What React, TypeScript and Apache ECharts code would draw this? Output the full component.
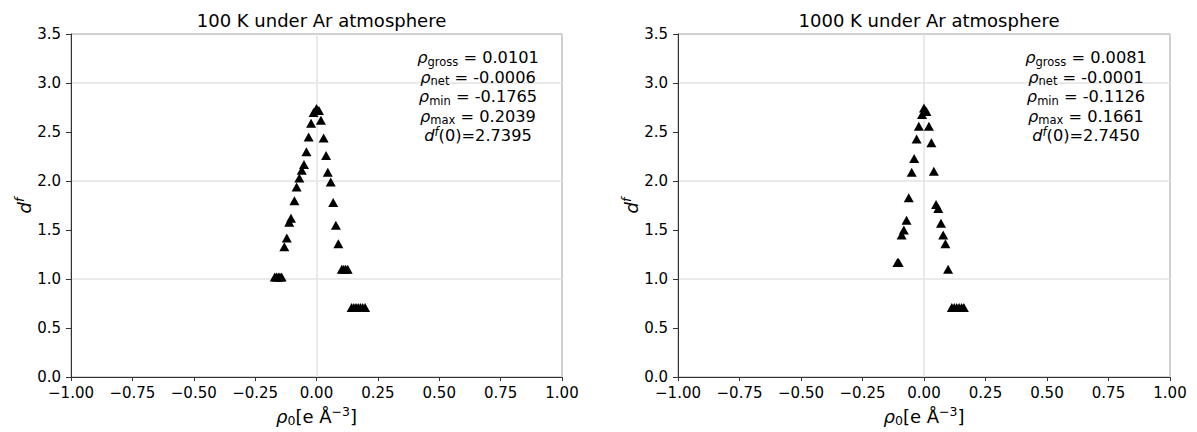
import React, { useEffect, useRef } from "react";
import * as echarts from "echarts";

// 100 K under Ar atmosphere
const x100 = [-0.012, 0.0, 0.01, -0.022, 0.018, -0.032, 0.029, -0.041, 0.039, -0.051, -0.06, 0.046, -0.07, 0.058, -0.081, -0.09, 0.068, -0.104, -0.111, 0.079, -0.121, -0.131, 0.089, -0.17, -0.163, -0.156, -0.149, -0.142, 0.103, 0.111, 0.119, 0.127, 0.143, 0.152, 0.161, 0.17, 0.179, 0.188, 0.198];
const y100 = [2.7, 2.7395, 2.72, 2.59, 2.62, 2.45, 2.44, 2.3, 2.26, 2.17, 2.11, 2.09, 2.03, 1.99, 1.94, 1.8, 1.78, 1.62, 1.58, 1.55, 1.42, 1.33, 1.36, 1.02, 1.02, 1.02, 1.02, 1.02, 1.1, 1.1, 1.1, 1.1, 0.71, 0.71, 0.71, 0.71, 0.71, 0.71, 0.71];

// 1000 K under Ar atmosphere
const x1000 = [-0.008, 0.0, 0.01, -0.021, 0.02, -0.03, 0.03, -0.04, -0.05, 0.04, -0.062, 0.049, 0.058, -0.071, -0.082, -0.091, 0.069, 0.078, 0.087, -0.108, -0.103, 0.098, 0.113, 0.123, 0.133, 0.143, 0.153, 0.162];
const y1000 = [2.68, 2.745, 2.71, 2.56, 2.56, 2.43, 2.39, 2.23, 2.09, 2.1, 1.83, 1.76, 1.72, 1.6, 1.5, 1.45, 1.57, 1.45, 1.36, 1.17, 1.17, 1.1, 0.71, 0.71, 0.71, 0.71, 0.71, 0.71];

const titles = ["100 K under Ar atmosphere", "1000 K under Ar atmosphere"];
const statsA = ["0.0101", "-0.0006", "-0.1765", "0.2039", "2.7395"];
const statsB = ["0.0081", "-0.0001", "-0.1126", "0.1661", "2.7450"];

const xTicksMin = -1;
const xTicksMax = 1;
const xTickStep = 0.25;
const yTicksMin = 0;
const yTicksMax = 3.5;
const yTickStep = 0.5;

const FONT = "'DejaVu Sans', sans-serif";

export default function App() {
  const ref = useRef<HTMLDivElement>(null);
  useEffect(() => {
    document.body.style.margin = "0";
    const chart = echarts.init(ref.current!, null, { renderer: "svg" });
    const grids = [
      { left: 71, top: 34, width: 491, height: 344 },
      { left: 678, top: 34, width: 492, height: 344 },
    ];
    const fmtX = (v: number) => v.toFixed(2).replace("-", "\u2212");
    const fmtY = (v: number) => v.toFixed(1);
    const richName = {
      r: { fontFamily: FONT, fontStyle: "italic", fontSize: 18, color: "#000", lineHeight: 22 },
      n: { fontFamily: FONT, fontSize: 18, color: "#000", lineHeight: 22 },
      sub: { fontFamily: FONT, fontSize: 12.5, color: "#000", lineHeight: 10, verticalAlign: "bottom" },
      sup: { fontFamily: FONT, fontSize: 12.5, color: "#000", lineHeight: 14, verticalAlign: "top" },
      supi: { fontFamily: FONT, fontStyle: "italic", fontSize: 12.5, color: "#000", lineHeight: 14, verticalAlign: "top" },
    };
    const xAxes: any[] = [];
    const yAxes: any[] = [];
    grids.forEach((_, i) => {
      xAxes.push({
        gridIndex: i,
        type: "value",
        min: xTicksMin,
        max: xTicksMax,
        interval: xTickStep,
        axisLine: { show: true, onZero: false, lineStyle: { color: "#333", width: 1 } },
        axisTick: { show: true, inside: false, length: 4, lineStyle: { color: "#333" } },
        axisLabel: { formatter: fmtX, fontFamily: FONT, fontSize: 15, color: "#000", margin: 8 },
        splitLine: { show: false },
        name: "{r|ρ}{sub|0}{n|[e Å}{sup|−3}{n|]}",
        nameLocation: "middle",
        nameGap: 27,
        nameTextStyle: { rich: richName },
      });
      xAxes.push({
        gridIndex: i,
        type: "value",
        position: "top",
        min: -1,
        max: 1,
        interval: 1,
        axisLine: { show: false },
        axisTick: { show: false },
        axisLabel: { show: false },
        splitLine: { show: true, lineStyle: { color: "#e3e3e3", width: 1.5 } },
      });
      yAxes.push({
        gridIndex: i,
        type: "value",
        min: yTicksMin,
        max: yTicksMax,
        interval: yTickStep,
        axisLine: { show: true, onZero: false, lineStyle: { color: "#333", width: 1 } },
        axisTick: { show: true, inside: false, length: 5, lineStyle: { color: "#333" } },
        axisLabel: { formatter: fmtY, fontFamily: FONT, fontSize: 15, color: "#000", margin: 10 },
        splitLine: { show: false },
        name: "{r|d}{supi|f}",
        nameLocation: "middle",
        nameRotate: 90,
        nameGap: 26,
        nameTextStyle: { rich: richName },
      });
      yAxes.push({
        gridIndex: i,
        type: "value",
        position: "right",
        min: 0,
        max: 3.5,
        interval: 1,
        axisLine: { show: false },
        axisTick: { show: false },
        axisLabel: { show: false },
        splitLine: { show: true, lineStyle: { color: "#e3e3e3", width: 1.5 } },
      });
    });

    const statsText = (s: string[]) =>
      [
        `{r|ρ}{sub|gross}{n| = ${s[0]}}`,
        `{r|ρ}{sub|net}{n| = ${s[1]}}`,
        `{r|ρ}{sub|min}{n| = ${s[2]}}`,
        `{r|ρ}{sub|max}{n| = ${s[3]}}`,
        `{r|d}{supi|f}{n|(0)=${s[4]}}`,
      ].join("\n");
    const richStats = {
      r: { fontFamily: FONT, fontStyle: "italic", fontSize: 16.2, fill: "#000", lineHeight: 19.5 },
      n: { fontFamily: FONT, fontSize: 16.2, fill: "#000", lineHeight: 19.5 },
      sub: { fontFamily: FONT, fontSize: 11.5, fill: "#000", lineHeight: 9, verticalAlign: "bottom" },
      supi: { fontFamily: FONT, fontStyle: "italic", fontSize: 11.5, fill: "#000", lineHeight: 12, verticalAlign: "top" },
    };

    const mkSeries = (xs: number[], ys: number[], i: number) => ({
      type: "scatter",
      xAxisIndex: i * 2,
      yAxisIndex: i * 2,
      symbol: "triangle",
      symbolSize: [10, 9],
      itemStyle: { color: "#000", opacity: 1 },
      data: xs.map((x, k) => [x, ys[k]]),
      z: 5,
    });

    chart.setOption({
      animation: false,
      backgroundColor: "#fff",
      title: titles.map((t, i) => ({
        text: t,
        left: grids[i].left + grids[i].width / 2,
        top: 6,
        textAlign: "center",
        textStyle: { fontFamily: FONT, fontSize: 18, fontWeight: "normal", color: "#000" },
      })),
      grid: grids.map((g) => ({ ...g, show: true, borderColor: "#333", borderWidth: 1, containLabel: false })),
      xAxis: xAxes,
      yAxis: yAxes,
      series: [mkSeries(x100, y100, 0), mkSeries(x1000, y1000, 1)],
      graphic: [
        {
          type: "text",
          x: 478,
          y: 48,
          style: { text: statsText(statsA), rich: richStats, align: "center", verticalAlign: "top", fill: "#000" },
          z: 10,
        },
        {
          type: "text",
          x: 1086,
          y: 48,
          style: { text: statsText(statsB), rich: richStats, align: "center", verticalAlign: "top", fill: "#000" },
          z: 10,
        },
      ],
    });
    return () => chart.dispose();
  }, []);
  return <div ref={ref} style={{ width: 1197, height: 432 }} />;
}
